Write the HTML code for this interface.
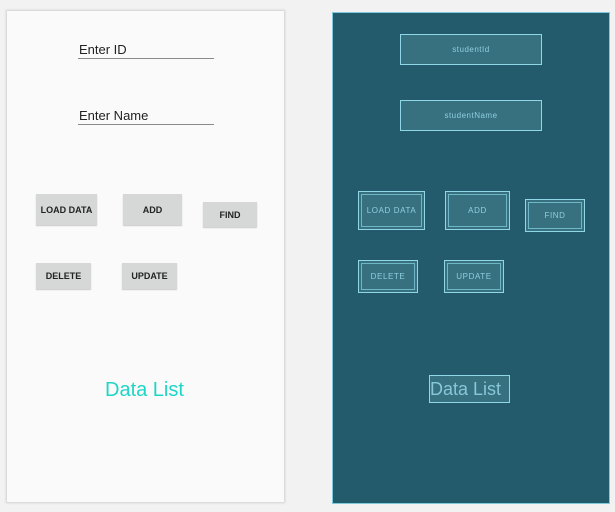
<!DOCTYPE html>
<html><head><style>
body{margin:0;width:615px;height:512px;background:#f2f2f2;position:relative;overflow:hidden;font-family:"Liberation Sans",sans-serif}
.a{position:absolute}
#L{left:7px;top:11px;width:277px;height:491px;background:#fafafa;box-shadow:0 0 2px 1px #d0d0d0}
#R{left:332px;top:12px;width:276px;height:490px;background:#235b6d;border:1px solid #7ecbdc}
.et{font-size:13px;color:#222}
.ul{height:1px;background:#8a8a8a}
.b{background:#d6d7d7;font-size:9px;font-weight:bold;color:#222;display:flex;align-items:center;justify-content:center;box-shadow:0 1px 1px #c8c8c8}
.bx{background:#37707f;border:1px solid #8fd6e6;color:#8fcfdf;font-size:8px;display:flex;align-items:center;justify-content:center;box-sizing:border-box;letter-spacing:0.5px}
.bb{background:#37707f;border:1px solid #8fd6e6;box-sizing:border-box}
.bb div{position:absolute;inset:2px;border:1px solid #6fb6c6;display:flex;align-items:center;justify-content:center;color:#8fcfdf;font-size:8px;letter-spacing:0.6px}
</style></head><body>
<div id="L" class="a"></div>
<div class="a et" style="left:79px;top:42px">Enter ID</div>
<div class="a ul" style="left:78px;top:58px;width:136px"></div>
<div class="a et" style="left:79px;top:108px">Enter Name</div>
<div class="a ul" style="left:78px;top:124px;width:136px"></div>
<div class="a b" style="left:36px;top:194px;width:61px;height:31px">LOAD DATA</div>
<div class="a b" style="left:123px;top:194px;width:59px;height:31px">ADD</div>
<div class="a b" style="left:203px;top:202px;width:54px;height:25px">FIND</div>
<div class="a b" style="left:36px;top:263px;width:55px;height:26px">DELETE</div>
<div class="a b" style="left:122px;top:263px;width:55px;height:26px">UPDATE</div>
<div class="a" style="left:105px;top:379px;font-size:20px;color:#1fd6c6">Data List</div>

<div id="R" class="a"></div>
<div class="a bx" style="left:400px;top:34px;width:142px;height:31px">studentId</div>
<div class="a bx" style="left:400px;top:100px;width:142px;height:31px">studentName</div>
<div class="a bb" style="left:358px;top:191px;width:67px;height:39px"><div>LOAD DATA</div></div>
<div class="a bb" style="left:445px;top:191px;width:65px;height:39px"><div>ADD</div></div>
<div class="a bb" style="left:525px;top:199px;width:60px;height:33px"><div>FIND</div></div>
<div class="a bb" style="left:358px;top:260px;width:60px;height:33px"><div>DELETE</div></div>
<div class="a bb" style="left:444px;top:260px;width:60px;height:33px"><div>UPDATE</div></div>
<div class="a bx" style="left:429px;top:375px;width:81px;height:28px;font-size:18px;letter-spacing:0;justify-content:flex-start;padding-left:0;color:#86c8d8">Data List</div>
</body></html>
